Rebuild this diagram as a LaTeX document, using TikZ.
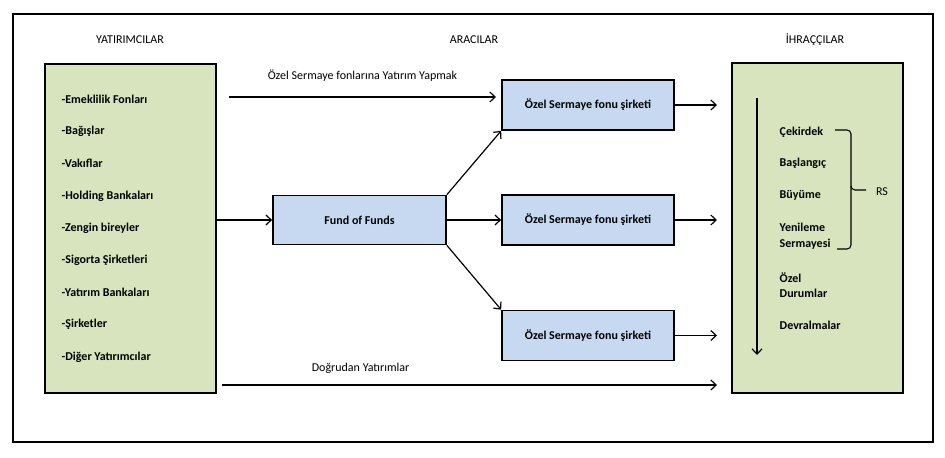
\documentclass[tikz,border=0pt]{standalone}
\usepackage{fontspec}
\setmainfont{Carlito}
\usetikzlibrary{arrows.meta}
\definecolor{boxgreen}{RGB}{215,228,189}
\definecolor{boxblue}{RGB}{198,217,241}

\begin{document}
\begin{tikzpicture}[x=0.75pt,y=-0.75pt,>={Straight Barb[length=4pt,width=7.5pt]},
    font=\fontsize{9}{11}\selectfont,
    greenbox/.style={draw,line width=1.3pt,fill=boxgreen,minimum width=128.25pt,minimum height=247pt},
    bluebox/.style={draw,line width=1.3pt,fill=boxblue,font=\fontsize{9}{11}\selectfont\bfseries,
        minimum width=129pt,minimum height=37.5pt},
    item/.style={anchor=west,font=\fontsize{9}{11}\selectfont\bfseries,align=left},
    link/.style={->,line width=0.9pt}]
                \useasboundingbox (0,0) rectangle (945,457);
                \draw[line width=1.5pt] (13,14) rectangle (933,442);
                \node (yat) at (130,40) {YATIRIMCILAR};
                \node (ara) at (474,40) {ARACILAR};
                \node (ihr) at (815,40) {İHRAÇÇILAR};
                % yatirimcilar
                \node[greenbox] (inv) at (130.5,228.5) {};
                \node[item] (i1) at (57,99) {-Emeklilik Fonları};
                \node[item] (i2) at (57,131) {-Bağışlar};
                \node[item] (i3) at (57,163) {-Vakıflar};
                \node[item] (i4) at (57,196) {-Holding Bankaları};
                \node[item] (i5) at (57,228) {-Zengin bireyler};
                \node[item] (i6) at (57,260) {-Sigorta Şirketleri};
                \node[item] (i7) at (57,292) {-Yatırım Bankaları};
                \node[item] (i8) at (57,324) {-Şirketler};
                \node[item] (i9) at (57,357) {-Diğer Yatırımcılar};
                % aracilar
                \node[bluebox,minimum width=129.75pt,minimum height=36.75pt] (fof) at (359.5,220) {Fund of Funds};
                \node[bluebox] (osf1) at (588,105) {Özel Sermaye fonu şirketi};
                \node[bluebox] (osf2) at (588,220) {Özel Sermaye fonu şirketi};
                \node[bluebox] (osf3) at (588,335.5) {Özel Sermaye fonu şirketi};
                % ihraccilar
                \node[greenbox] (iss) at (817.5,228) {};
                \node[item] (cek) at (775,132) {Çekirdek};
                \node[item] (bas) at (775,163) {Başlangıç};
                \node[item] (buy) at (775,195) {Büyüme};
                \node[item] (yen) at (775,236) {Yenileme\\[1pt]Sermayesi};
                \node[item] (oze) at (775,285) {Özel\\Durumlar};
                \node[item] (dev) at (775,325) {Devralmalar};
                \node (rs) at (882,192) {RS};
                \draw[line width=0.8pt,rounded corners=3pt] (835,130) -| (851,190) -- (866,190);
                \draw[line width=0.8pt,rounded corners=3pt] (851,186) |- (837,249);
                % oklar
                \coordinate (topS) at (229,97);
                \coordinate (topE) at (496,97);
                \coordinate (dirS) at (222,385);
                \coordinate (dirE) at (717,385);
                \coordinate (vS) at (757,98);
                \coordinate (vE) at (757,355);
                \draw[link] (topS) -- (topE) node[midway,above=8pt] {Özel Sermaye fonlarına Yatırım Yapmak};
                \draw[link] (dirS) -- (dirE) node[pos=0.28,above=5pt] {Doğrudan Yatırımlar};
                \draw[link] (inv.east |- fof) -- (fof.west);
                \draw[link] (fof.north east) -- (osf1.south west);
                \draw[link] (fof.east) -- (osf2.west);
                \draw[link] (fof.south east) -- (osf3.north west);
                \draw[link] (osf1.east) -- (osf1.east -| dirE);
                \draw[link] (osf2.east) -- (osf2.east -| dirE);
                \draw[link] (osf3.east) -- (osf3.east -| dirE);
                \draw[link] (vS) -- (vE);
            \end{tikzpicture}
\end{document}
